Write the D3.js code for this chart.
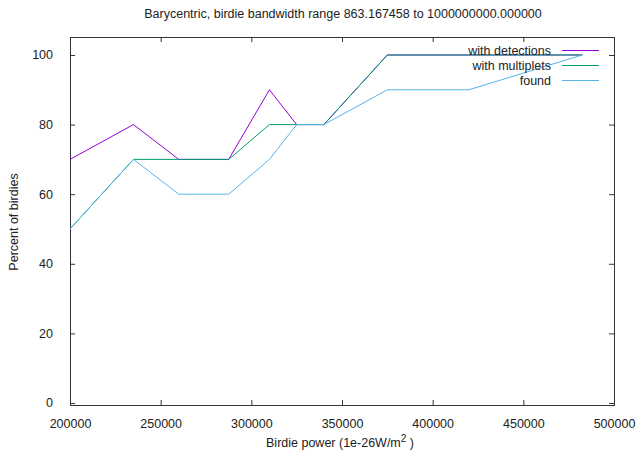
<!DOCTYPE html>
<html>
<head>
<meta charset="utf-8">
<script src="https://cdn.jsdelivr.net/npm/d3@7"></script>
<style>
	body { margin: 0; background: #fff; }
	svg text { font-family: "Liberation Sans", Arial, sans-serif; fill: #222; }
</style>
</head>
<body>
<svg id="chart"></svg>
<script>
// birdie power levels (x) and percent values per series
let powers = [200000, 235000, 260000, 287500, 310000, 325000, 340000, 375000, 420000, 482500];
let withDetections = [70, 80, 70, 70, 90, 80, 80, 100, 100, 100];
let withMultiplets = [50, 70, 70, 70, 80, 80, 80, 100, 100, 100];
let found = [50, 70, 60, 60, 70, 80, 80, 90, 90, 100];

let seriesNames = ['with detections', 'with multiplets', 'found'];
let seriesColors = ['#9400d3', '#009e73', '#56b4e9'];
let xTicks = [200000, 250000, 300000, 350000, 400000, 450000, 500000];
let yTicks = [0, 20, 40, 60, 80, 100];

let W = 636, H = 456;
// plot box
let marg = { top: 37, right: 22, bottom: 51, left: 70 };

const svg = d3.select('#chart').attr('width', W).attr('height', H);

const x = d3.scaleLinear().domain([200000, 500000]).range([marg.left, W - marg.right]);
const y = d3.scaleLinear().domain([-0.575, 105.17]).range([H - marg.bottom, marg.top]);

let fs = 12.5;
let tickLen = 5;

// axes (ticks point inward, mirrored on top/right like gnuplot)
function styleAxis(g) {
	g.select('.domain').remove();
	g.selectAll('.tick line').attr('stroke', '#333').attr('stroke-width', 1);
	g.selectAll('.tick text').attr('font-size', fs).attr('fill', '#222')
		.attr('font-family', '"Liberation Sans", Arial, sans-serif');
}

svg.append('g')
	.attr('transform', 'translate(0,' + (H - marg.bottom) + ')')
	.call(d3.axisBottom(x).tickValues(xTicks).tickFormat(d3.format('d')).tickSizeInner(-tickLen).tickSizeOuter(0).tickPadding(14))
	.call(styleAxis);

svg.append('g')
	.attr('transform', 'translate(0,' + marg.top + ')')
	.call(d3.axisTop(x).tickValues(xTicks).tickFormat('').tickSizeInner(-tickLen).tickSizeOuter(0))
	.call(styleAxis);

svg.append('g')
	.attr('transform', 'translate(' + marg.left + ',0)')
	.call(d3.axisLeft(y).tickValues(yTicks).tickSizeInner(-tickLen).tickSizeOuter(0).tickPadding(17))
	.call(styleAxis);

svg.append('g')
	.attr('transform', 'translate(' + (W - marg.right) + ',0)')
	.call(d3.axisRight(y).tickValues(yTicks).tickFormat('').tickSizeInner(-tickLen).tickSizeOuter(0))
	.call(styleAxis);

svg.append('rect')
	.attr('x', marg.left + 0.5).attr('y', marg.top + 0.5)
	.attr('width', W - marg.left - marg.right).attr('height', H - marg.top - marg.bottom)
	.attr('fill', 'none').attr('stroke', '#333').attr('stroke-width', 1);

// the three series
let allSeries = [withDetections, withMultiplets, found];
const line = d3.line()
	.x((d, i) => x(powers[i]))
	.y(d => y(d));

allSeries.forEach((vals, k) => {
	svg.append('path')
		.datum(vals)
		.attr('d', line)
		.attr('fill', 'none')
		.attr('stroke', seriesColors[k])
		.attr('stroke-width', 1);
});

// legend, top right inside the box
let legX = 551, legY = 50, legStep = 15;
seriesNames.forEach((name, k) => {
	let ly = legY + k * legStep;
	svg.append('text')
		.attr('x', legX).attr('y', ly + 4.5)
		.attr('text-anchor', 'end')
		.attr('font-size', fs)
		.text(name);
	svg.append('line')
		.attr('x1', legX + 11).attr('x2', legX + 48)
		.attr('y1', ly + 0.5).attr('y2', ly + 0.5)
		.attr('stroke', seriesColors[k]).attr('stroke-width', 1);
});

// title and axis labels
svg.append('text')
	.attr('x', 343).attr('y', 18)
	.attr('text-anchor', 'middle')
	.attr('font-size', fs)
	.text('Barycentric, birdie bandwidth range 863.167458 to 1000000000.000000');

let xl = svg.append('text')
	.attr('x', 340).attr('y', 447)
	.attr('text-anchor', 'middle')
	.attr('font-size', fs);
xl.append('tspan').text('Birdie power (1e-26W/m');
xl.append('tspan').attr('dy', -5).attr('font-size', 10).text('2');
xl.append('tspan').attr('dy', 5).text(' )');

svg.append('text')
	.attr('transform', 'translate(18,222) rotate(-90)')
	.attr('text-anchor', 'middle')
	.attr('font-size', fs)
	.text('Percent of birdies');
</script>
</body>
</html>
